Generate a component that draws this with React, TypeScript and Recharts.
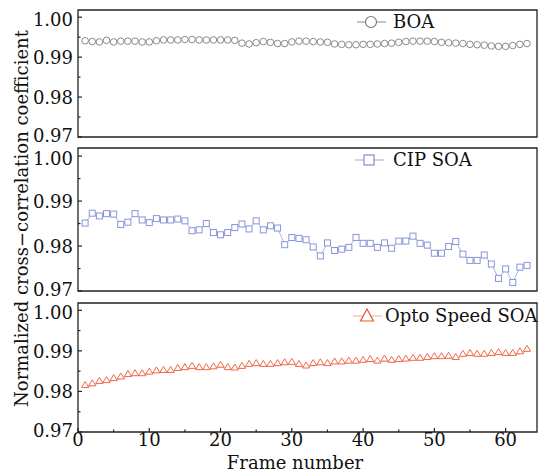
import React from 'react';
import { LineChart, Line, XAxis, YAxis, ReferenceArea, Legend } from 'recharts';

const frames = [
  1, 2, 3, 4, 5, 6, 7, 8, 9, 10, 11, 12, 13, 14, 15, 16, 17, 18, 19, 20, 21,
  22, 23, 24, 25, 26, 27, 28, 29, 30, 31, 32, 33, 34, 35, 36, 37, 38, 39, 40, 41, 42,
  43, 44, 45, 46, 47, 48, 49, 50, 51, 52, 53, 54, 55, 56, 57, 58, 59, 60, 61, 62, 63,
];

const boa = [
  0.9941, 0.9939, 0.9938, 0.9942, 0.9938, 0.994, 0.994, 0.994, 0.9938, 0.9938,
  0.9941, 0.9943, 0.9943, 0.9943, 0.9944, 0.9944, 0.9943, 0.9943, 0.9943, 0.9943,
  0.9943, 0.9942, 0.9935, 0.9933, 0.9936, 0.9939, 0.9937, 0.9934, 0.9934, 0.9938,
  0.994, 0.994, 0.9939, 0.9938, 0.9937, 0.9933, 0.9932, 0.9931, 0.9931, 0.9932,
  0.9932, 0.9933, 0.9934, 0.9935, 0.9937, 0.9939, 0.994, 0.994, 0.994, 0.9939,
  0.9937, 0.9936, 0.9935, 0.9934, 0.9932, 0.9931, 0.993, 0.9928, 0.9927, 0.9927,
  0.9929, 0.9932, 0.9934,
];

const cipSoa = [
  0.9851, 0.9873, 0.9867, 0.9872, 0.9871, 0.9848, 0.9853, 0.9872, 0.9858, 0.9852,
  0.9861, 0.9858, 0.9858, 0.986, 0.9856, 0.9834, 0.9836, 0.985, 0.983, 0.9825,
  0.983, 0.9841, 0.9849, 0.9838, 0.9856, 0.9836, 0.9845, 0.984, 0.9803, 0.9819,
  0.9817, 0.9814, 0.9798, 0.9778, 0.9807, 0.979, 0.9793, 0.9797, 0.9819, 0.9806,
  0.9806, 0.9797, 0.9807, 0.9795, 0.9811, 0.9811, 0.9822, 0.9806, 0.9802, 0.9784,
  0.9784, 0.9799, 0.981, 0.9782, 0.9768, 0.9768, 0.978, 0.976, 0.9728, 0.9749,
  0.9719, 0.9753, 0.9757,
];

const optoSoa = [
  0.9811, 0.9815, 0.9821, 0.9823, 0.9828, 0.9832, 0.9838, 0.984, 0.984, 0.9844,
  0.9847, 0.9848, 0.9848, 0.9853, 0.9855, 0.9858, 0.9855, 0.9855, 0.9857, 0.9861,
  0.9855, 0.9854, 0.9858, 0.9863, 0.9865, 0.9863, 0.9863, 0.9865, 0.9867, 0.9868,
  0.9863, 0.9859, 0.9865, 0.9867, 0.9865, 0.9869, 0.9869, 0.9871, 0.9871, 0.9873,
  0.9875, 0.9871, 0.9876, 0.9873, 0.9875, 0.9876, 0.9878, 0.9878, 0.988, 0.9882,
  0.9882, 0.9883, 0.988, 0.9888, 0.989, 0.9888, 0.9888, 0.989, 0.9892, 0.989,
  0.989, 0.9894, 0.99,
];

const xTicks = [0, 5, 10, 15, 20, 25, 30, 35, 40, 45, 50, 55, 60];
const yTicks = [0.97, 0.975, 0.98, 0.985, 0.99, 0.995, 1.0];
const xDomain = [0, 64.4];
const yDomain = [0.97, 1.0018];

const data = frames.map((f, i) => ({
  frame: f,
  boa: boa[i],
  cip: cipSoa[i],
  opto: optoSoa[i],
}));

const FONT = '"DejaVu Serif", "Liberation Serif", serif';
const AXIS = '#222';
const FS = 18;

const XTick = ({ x, y, payload, labels }: any) => {
  const major = payload.value % 10 === 0;
  return (
    <g>
      <line x1={x} y1={y} x2={x} y2={y - (major ? 4 : 2.5)} stroke={AXIS} strokeWidth={1.2} />
      {labels && major && (
        <text x={x} y={y + 14} textAnchor="middle" fontSize={FS} fontFamily={FONT} fill="#111">
          {payload.value}
        </text>
      )}
    </g>
  );
};

const YTick = ({ x, y, payload }: any) => {
  const v = payload.value;
  const major = Math.round(v * 1000) % 10 === 0;
  // end labels sit slightly inward, as in the original figure
  const shift = v < 0.971 ? -2 : v > 0.999 ? 1.5 : 0;
  return (
    <g>
      <line x1={x} y1={y} x2={x + (major ? 4 : 2.5)} y2={y} stroke={AXIS} strokeWidth={1.2} />
      {major && (
        <text x={x - 5} y={y + 7 + shift} textAnchor="end" fontSize={FS} fontFamily={FONT} fill="#111">
          {v.toFixed(2)}
        </text>
      )}
    </g>
  );
};

const YTitle = ({ viewBox }: any) => {
  const cx = 21;
  const cy = viewBox.y + viewBox.height / 2 - 1;
  return (
    <text
      x={cx}
      y={cy}
      transform={`rotate(-90, ${cx}, ${cy})`}
      textAnchor="middle"
      dominantBaseline="central"
      fontSize={FS}
      fontFamily={FONT}
      fill="#111"
    >
      Normalized cross−correlation coefficient
    </text>
  );
};

const XTitle = ({ viewBox }: any) => (
  <text
    x={295}
    y={viewBox.y + viewBox.height - 4}
    textAnchor="middle"
    fontSize={FS}
    fontFamily={FONT}
    fill="#111"
  >
    Frame number
  </text>
);

const squareDot = (stroke: string) => (p: any) => (
  <rect key={`sq-${p.index}`} x={p.cx - 3} y={p.cy - 3} width={6} height={6} fill="#fff" stroke={stroke} strokeWidth={1} />
);

const triangleDot = (stroke: string) => (p: any) => (
  <polygon
    key={`tr-${p.index}`}
    points={`${p.cx},${p.cy - 5.5} ${p.cx - 3.6},${p.cy + 0.5} ${p.cx + 3.6},${p.cy + 0.5}`}
    fill="#fff"
    stroke={stroke}
    strokeWidth={1}
  />
);

const legendContent = (marker: string, line: string, color: string, gap: number) => (props: any) => {
  const name = props.payload && props.payload[0] ? props.payload[0].value : '';
  return (
    <div style={{ display: 'flex', alignItems: 'center', height: 24, whiteSpace: 'nowrap' }}>
      <svg width={30} height={24}>
        <line x1={0} y1={12} x2={29} y2={12} stroke={line} strokeWidth={1} />
        {marker === 'circle' && <circle cx={14} cy={12} r={5.5} fill="#fff" stroke={color} strokeWidth={1.2} />}
        {marker === 'square' && <rect x={9} y={7} width={10} height={10} fill="#fff" stroke={color} strokeWidth={1.2} />}
        {marker === 'triangle' && <polygon points="14,5 7.5,17 20.5,17" fill="#fff" stroke={color} strokeWidth={1.2} />}
      </svg>
      <span style={{ marginLeft: gap, fontFamily: FONT, fontSize: FS, color: '#111', lineHeight: '24px' }}>{name}</span>
    </div>
  );
};

interface PanelProps {
  top: number;
  height: number;
  margin: { top: number; right: number; bottom: number; left: number };
  xHeight: number;
  children: React.ReactNode;
  labels?: boolean;
  yTitle?: boolean;
}

const Panel: React.FC<PanelProps> = ({ top, height, margin, xHeight, children, labels, yTitle }) => (
  <div style={{ position: 'absolute', left: 0, top }}>
    <LineChart width={538} height={height} data={data} margin={margin}>
      <XAxis
        dataKey="frame"
        type="number"
        domain={xDomain}
        ticks={xTicks}
        interval={0}
        height={xHeight}
        axisLine={false}
        tickLine={false}
        tickSize={0}
        tickMargin={0}
        tick={<XTick labels={labels} />}
        label={labels ? <XTitle /> : undefined}
      />
      <YAxis
        type="number"
        domain={yDomain}
        ticks={yTicks}
        interval={0}
        width={78}
        axisLine={false}
        tickLine={false}
        tickSize={0}
        tickMargin={0}
        tick={<YTick />}
        label={yTitle ? <YTitle /> : undefined}
      />
      <ReferenceArea x1={0} x2={64.4} y1={0.97} y2={1.0018} fill="none" stroke={AXIS} strokeWidth={1.3} />
      {children}
    </LineChart>
  </div>
);

export default function App() {
  return (
    <div style={{ position: 'absolute', left: 0, top: 0, width: 538, height: 473, background: '#fff' }}>
      <style>{`.recharts-surface{overflow:visible}`}</style>
      <Panel top={0} height={145} margin={{ top: 10, right: 1, bottom: 8, left: 0 }} xHeight={0}>
        <Legend
          verticalAlign="middle"
          content={legendContent('circle', '#8c8c8c', '#7a7a7a', 6)}
          wrapperStyle={{ top: 10, left: 357, width: 'auto' }}
        />
        <Line
          dataKey="boa"
          name="BOA"
          type="linear"
          stroke="#a0a0a0"
          strokeWidth={1}
          dot={{ r: 3.3, fill: '#fff', stroke: '#8a8a8a', strokeWidth: 1 }}
          isAnimationActive={false}
        />
      </Panel>
      <Panel top={140} height={160} margin={{ top: 8, right: 1, bottom: 9, left: 0 }} xHeight={0} yTitle>
        <Legend
          verticalAlign="middle"
          content={legendContent('square', '#9aa6e2', '#7f8fd6', 8)}
          wrapperStyle={{ top: 8, left: 355, width: 'auto' }}
        />
        <Line
          dataKey="cip"
          name="CIP SOA"
          type="linear"
          stroke="#aab4e8"
          strokeWidth={1}
          dot={squareDot('#8896d8')}
          isAnimationActive={false}
        />
      </Panel>
      <Panel top={295} height={178} margin={{ top: 8, right: 1, bottom: 0, left: 0 }} xHeight={41} labels>
        <Legend
          verticalAlign="middle"
          content={legendContent('triangle', '#f8a898', '#ee5235', 2)}
          wrapperStyle={{ top: 9, left: 353, width: 'auto' }}
        />
        <Line
          dataKey="opto"
          name="Opto Speed SOA"
          type="linear"
          stroke="#f9b5a5"
          strokeWidth={1.2}
          dot={triangleDot('#f06a4c')}
          isAnimationActive={false}
        />
      </Panel>
    </div>
  );
}
